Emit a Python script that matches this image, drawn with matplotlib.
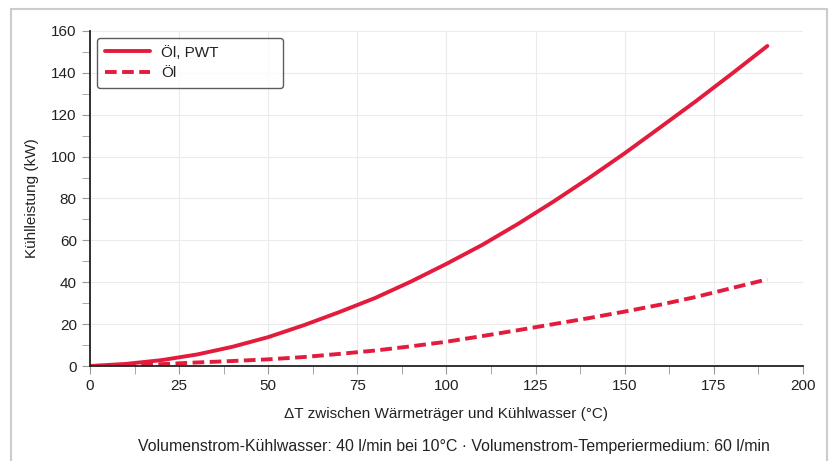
import numpy as np
import matplotlib.pyplot as plt
from matplotlib.patches import Rectangle
from matplotlib.ticker import MultipleLocator

plt.rcParams['font.family'] = ['Liberation Sans', 'DejaVu Sans']

# values
delta_t = [0, 10, 20, 30, 40, 50, 60, 70, 80, 90, 100,
           110, 120, 130, 140, 150, 160, 170, 180, 190]
oel_pwt = [0, 1.0, 2.8, 5.5, 9.2, 13.8, 19.5, 25.8, 32.5, 40.3, 48.8,
           57.8, 67.8, 78.5, 89.8, 101.6, 114.0, 126.5, 139.5, 152.8]
oel = [0, 0.3, 0.9, 1.7, 2.4, 3.2, 4.3, 5.8, 7.4, 9.4, 11.6,
       14.3, 17.1, 20.0, 22.9, 26.0, 29.3, 33.0, 37.2, 41.4]

red = '#e31c3d'

fig = plt.figure(figsize=(8.33, 4.61), dpi=100)
ax = fig.add_axes([0.108, 0.206, 0.856, 0.727])

ax.plot(delta_t, oel_pwt, color=red, lw=2.8, label='Öl, PWT', solid_capstyle='round')
ax.plot(delta_t, oel, color=red, lw=2.8, dashes=(3, 1.4), label='Öl')

ax.set_xlim(0, 200)
ax.set_ylim(0, 160)
ax.xaxis.set_major_locator(MultipleLocator(25))
ax.xaxis.set_minor_locator(MultipleLocator(12.5))
ax.yaxis.set_major_locator(MultipleLocator(20))
ax.yaxis.set_minor_locator(MultipleLocator(10))
ax.grid(True, which='major', color='#ebebeb', lw=0.8)
ax.set_axisbelow(True)

for s in ['top', 'right']:
    ax.spines[s].set_visible(False)
for s in ['left', 'bottom']:
    ax.spines[s].set_color('#222222')
    ax.spines[s].set_linewidth(1.3)

ax.tick_params(which='both', colors='#999999', labelcolor='#222222', labelsize=11)
ax.tick_params(which='major', length=6)
ax.tick_params(which='minor', length=6)

ax.set_xlabel('ΔT zwischen Wärmeträger und Kühlwasser (°C)', fontsize=11, color='#222222', labelpad=10)
ax.set_ylabel('Kühlleistung (kW)', fontsize=11, color='#222222', labelpad=9)

fig.text(0.545, 0.032, 'Volumenstrom-Kühlwasser: 40 l/min bei 10°C · Volumenstrom-Temperiermedium: 60 l/min',
         ha='center', va='center', fontsize=11.4, color='#222222')

leg = ax.legend(loc='upper left', bbox_to_anchor=(0.0098, 0.979, 0.261, 0.0),
                mode='expand', borderaxespad=0, fontsize=11,
                handlelength=3.0, handletextpad=0.7, frameon=True, fancybox=True,
                borderpad=0.5, labelspacing=0.45)
leg.get_frame().set_edgecolor('#333333')
leg.get_frame().set_linewidth(1.0)
for t in leg.get_texts():
    t.set_color('#222222')

# light frame around the whole figure
fig.patches.append(Rectangle((11 / 833, -0.1), 816 / 833, 1.1 - 9 / 461,
                             transform=fig.transFigure, fill=False,
                             edgecolor='#cccccc', lw=1.5))

fig.savefig('out.png', dpi=100)
